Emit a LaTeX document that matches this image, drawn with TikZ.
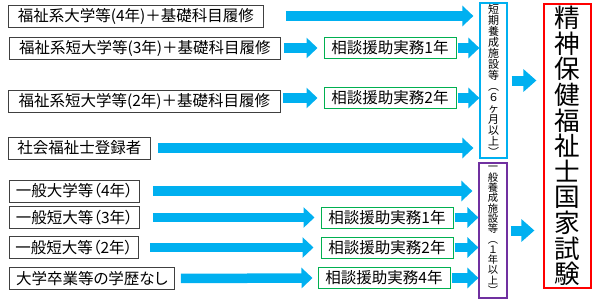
\documentclass[tikz,border=0pt]{standalone}
\usepackage{fontspec}
\setmainfont{Noto Sans CJK JP}[RawFeature=+palt]
\usetikzlibrary{arrows.meta,positioning}
\definecolor{arrowblue}{HTML}{00B0F0}
\definecolor{jgreen}{HTML}{00B050}
\definecolor{ipurple}{HTML}{7030A0}
\definecolor{sred}{HTML}{FF0000}
\newcommand\tatefont[2]{\fontsize{#1}{#2}\selectfont\lineskiplimit=-50pt\lineskip=0pt}

\begin{document}
\begin{tikzpicture}[
  x=1pt, y=-1pt,
  src/.style={draw=black!75, line width=0.8pt, anchor=west, inner sep=0pt,
              minimum height=22pt, font=\fontsize{15.5}{16}\selectfont},
  jitsumu/.style={draw=jgreen, line width=1pt, inner sep=0pt,
                  minimum width=132pt, minimum height=21pt,
                  font=\fontsize{15.5}{16}\selectfont},
  shisetsu/.style={line width=1.2pt, align=center, inner sep=0pt,
                   minimum width=27pt, font=\tatefont{11}{11}},
  fat/.style={arrowblue, line width=9.5pt, -{Triangle[length=11pt,width=20pt]}},
  fatbig/.style={fat, line width=10pt, -{Triangle[length=13pt,width=22pt]}},
]
\useasboundingbox (0,0) rectangle (600,300);

% left column
\node[src, minimum width=255pt] (f4) at (8,16) {福祉系大学等(4年)＋基礎科目履修};
\node[src, minimum width=271pt] (f3) at (9,48) {福祉系短大学等(3年)＋基礎科目履修};
\node[src, minimum width=272pt] (f2) at (8,101) {福祉系短大学等(2年)＋基礎科目履修};
\node[src, minimum width=142pt] (shakai) at (8,148) {社会福祉士登録者};
\node[src, minimum width=130pt] (ip4) at (9,191) {一般大学等（4年）};
\node[src, minimum width=130pt] (ip3) at (9,217.5) {一般短大等（3年）};
\node[src, minimum width=129pt] (ip2) at (9,247.5) {一般短大等（2年）};
\node[src, minimum width=165pt] (nashi) at (9,278.5) {大学卒業等の学歴なし};

% jitsumu
\node[jitsumu] (j1) at (390,48) {相談援助実務1年};
\node[jitsumu] (j2) at (390,98) {相談援助実務2年};
\node[jitsumu] (j1i) at (387,217.5) {相談援助実務1年};
\node[jitsumu] (j2i) at (387,247.5) {相談援助実務2年};
\node[jitsumu] (j4i) at (384,278) {相談援助実務4年};

% shisetsu
\node[shisetsu, draw=arrowblue, minimum height=155pt] (tanki) at (493.5,80.5)
  {短\\期\\養\\成\\施\\設\\等\\︵\\６\\ヶ\\月\\以\\上\\︶};
\node[shisetsu, draw=ipurple, minimum width=28pt, minimum height=135pt,
      font=\tatefont{10.3}{10.3}] (ippan) at (493,230.5)
  {一\\般\\養\\成\\施\\設\\等\\︵\\１\\年\\以\\上\\︶};

\node[draw=sred, line width=1.2pt, align=center, inner sep=0pt,
      minimum width=47pt, minimum height=284pt,
      font=\tatefont{25.6}{25.6}] (shiken) at (567.5,146)
  {精\\神\\保\\健\\福\\祉\\士\\国\\家\\試\\験};

% arrows
\draw[fat, shorten <=22pt, shorten >=6pt] (f4.east) -- (f4.east -| tanki.west);
\draw[fat, shorten <=3pt, shorten >=6pt] (f3.east) -- (j1.west);
\draw[fat, shorten <=1pt] (j1.east) -- (j1.east -| tanki.west);
\draw[fat, shorten <=2pt, shorten >=6pt] (f2.east |- j2.west) -- (j2.west);
\draw[fat, shorten <=1pt] (j2.east) -- (j2.east -| tanki.west);
\draw[fat, shorten <=7pt, shorten >=6pt] (shakai.east) -- (shakai.east -| tanki.west);

\draw[fat, shorten <=13pt, shorten >=6pt] (ip4.east) -- (ip4.east -| ippan.west);
\draw[fat, shorten <=13pt, shorten >=6pt] (ip3.east) -- (j1i.west);
\draw[fat, shorten <=1pt] (j1i.east) -- (j1i.east -| ippan.west);
\draw[fat, shorten <=11pt, shorten >=7pt] (ip2.east) -- (j2i.west);
\draw[fat, shorten <=1pt] (j2i.east) -- (j2i.east -| ippan.west);
\draw[fat, shorten <=6pt, shorten >=5pt] (nashi.east) -- (j4i.west);
\draw[fat, shorten <=1pt] (j4i.east) -- (j4i.east -| ippan.west);

\draw[fatbig, shorten <=4pt, shorten >=7pt] (tanki.east) -- (tanki.east -| shiken.west);
\draw[fatbig, shorten <=3pt, shorten >=9pt] (ippan.east) -- (ippan.east -| shiken.west);
\end{tikzpicture}
\end{document}
